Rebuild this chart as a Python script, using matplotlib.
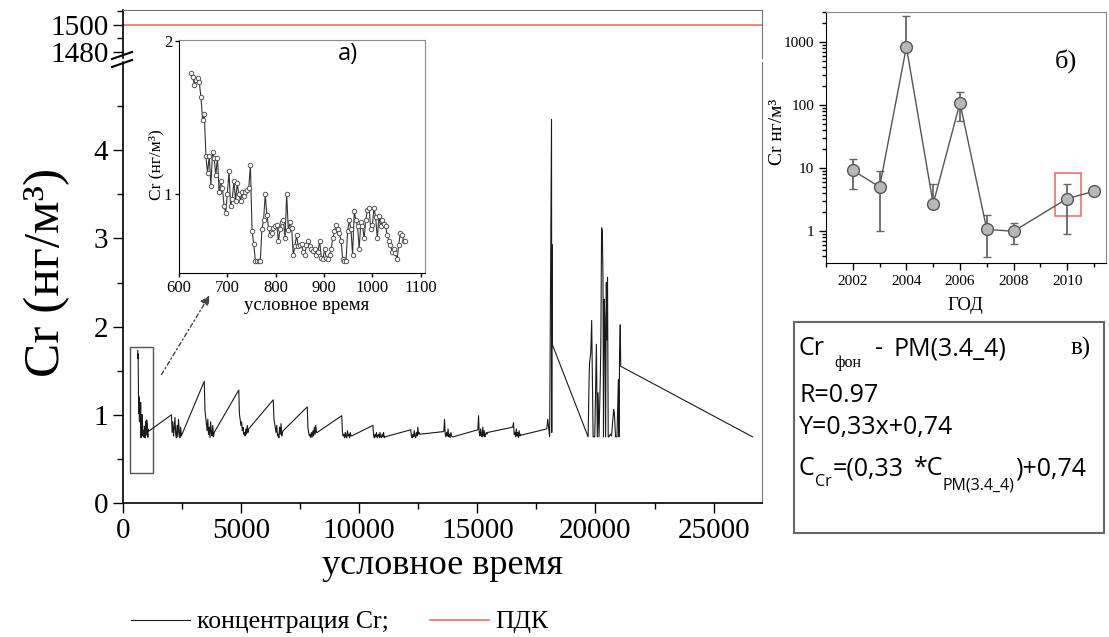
import numpy as np
import matplotlib
matplotlib.use("Agg")
import matplotlib.pyplot as plt
from matplotlib.lines import Line2D
from matplotlib.patches import Rectangle, FancyArrowPatch
from matplotlib.ticker import MultipleLocator, FixedLocator, NullLocator, FixedFormatter, LogLocator, NullFormatter

SERIF = "Liberation Serif"
SANS = "Open Sans"
plt.rcParams["font.family"] = [SERIF, "DejaVu Serif"]

# ---------------- data ----------------
# inset (a): first block of the series
inset_start = 625.0
inset_step = 3.41
inset_values = [1.73, 1.70, 1.64, 1.68, 1.69, 1.66, 1.55, 1.40, 1.44, 1.19,
                1.10, 1.19, 1.04, 1.21, 1.18, 1.09, 1.18, 1.01, 1.06, 1.03,
                0.95, 0.92, 1.00, 1.11, 0.95, 0.98, 1.06, 0.97, 1.05, 1.00,
                0.97, 1.01, 0.99, 1.01, 1.02, 1.03, 1.14, 0.845, 0.80, 0.74,
                0.74, 0.74, 0.74, 0.855, 0.89, 1.00, 0.91, 0.86, 0.83, 0.84,
                0.86, 0.865, 0.87, 0.81, 0.855, 0.88, 0.89, 0.82, 1.00, 0.85,
                0.88, 0.86, 0.76, 0.79, 0.83, 0.79, 0.795, 0.80, 0.77, 0.76,
                0.795, 0.81, 0.79, 0.78, 0.775, 0.78, 0.76, 0.77, 0.81, 0.75,
                0.745, 0.78, 0.75, 0.745, 0.76, 0.78, 0.82, 0.845, 0.87, 0.855,
                0.84, 0.81, 0.745, 0.74, 0.74, 0.845, 0.89, 0.855, 0.76, 0.925,
                0.89, 0.865, 0.78, 0.88, 0.865, 0.82, 0.89, 0.93, 0.94, 0.855,
                0.87, 0.94, 0.90, 0.82, 0.905, 0.865, 0.89, 0.875, 0.865, 0.83,
                0.81, 0.795, 0.77, 0.78, 0.765, 0.745, 0.795, 0.84, 0.83, 0.81,
                0.81]

# following measurement blocks (start time, values at fixed step)
block_step = 30.0
block_starts = [2050, 3440, 4900, 6360, 7800, 9260, 10580, 12180, 13580, 15020, 16500]
block_values = [
    [1.00, 0.80, 0.92, 0.76, 0.85, 0.97, 0.78, 0.74, 0.88, 0.75, 0.95, 0.80, 0.74, 0.86, 0.76],
    [1.38, 1.05, 0.98, 0.90, 0.82, 0.95, 0.78, 0.86, 0.74, 0.92, 0.80, 0.76, 0.88, 0.75, 0.80],
    [1.28, 1.00, 0.95, 0.88, 0.92, 0.82, 0.86, 0.78, 0.80, 0.76, 0.84, 0.78, 0.88, 0.80, 0.84],
    [1.17, 0.95, 0.90, 0.85, 0.80, 0.88, 0.76, 0.78, 0.74, 0.86, 0.78, 0.90, 0.76, 0.80, 0.82],
    [1.09, 0.85, 0.80, 0.76, 0.78, 0.74, 0.80, 0.75, 0.82, 0.76, 0.86, 0.78, 0.88, 0.80, 0.80],
    [0.99, 0.80, 0.76, 0.78, 0.74, 0.80, 0.75, 0.74, 0.82, 0.76, 0.78, 0.74, 0.80, 0.76, 0.76],
    [0.88, 0.76, 0.74, 0.78, 0.75, 0.80, 0.74, 0.76, 0.78, 0.74, 0.80, 0.75, 0.74, 0.78, 0.75, 0.80, 0.74, 0.75],
    [0.83, 0.76, 0.74, 0.78, 0.75, 0.82, 0.76, 0.74, 0.80, 0.76, 0.86, 0.78, 0.80, 0.78],
    [0.81, 0.95, 0.78, 0.75, 0.80, 0.76, 0.84, 0.75, 0.78, 0.74, 0.80, 0.76, 0.75, 0.75],
    [0.83, 0.99, 0.80, 0.76, 0.84, 0.78, 0.75, 0.86, 0.76, 0.82, 0.75, 0.78, 0.80, 0.78, 0.80],
    [0.86, 0.91, 0.78, 0.80, 0.75, 0.84, 0.76, 0.80, 0.74, 0.82, 0.76, 0.78, 0.77],
]
# last part: spike and dense burst
tail_time = [17940, 17980, 18060, 18140, 18150, 18160, 18170,
             19690, 19730, 19750, 19800, 19840, 19850, 19900, 19970, 20040, 20080,
             20110, 20150, 20210, 20230, 20260, 20290, 20320, 20340, 20370, 20400,
             20430, 20460, 20480, 20510, 20540, 20570, 20630, 20680, 20770, 20800,
             20850, 20910, 20970, 21000, 21020, 21050, 21070, 26650]
tail_values = [0.84, 0.95, 0.75, 4.35, 0.80, 2.93, 1.80,
               0.75, 1.41, 1.59, 1.70, 2.07, 1.85, 0.75, 0.75, 1.80, 0.75,
               1.25, 0.75, 1.48, 1.89, 3.12, 3.08, 2.53, 0.75, 2.31, 2.10,
               0.75, 2.50, 1.85, 2.56, 0.75, 0.75, 0.78, 0.76, 1.06, 1.02,
               0.75, 0.75, 1.40, 0.75, 1.70, 2.02, 1.55, 0.75]
pdk_value = 1500.0

# panel (b)
years = [2002, 2003, 2004, 2005, 2006, 2007, 2008, 2010, 2011]
cr_year = [9.2, 5.0, 833, 2.7, 108, 1.06, 0.99, 3.26, 4.26]
cr_low = [4.6, 1.0, 740, 2.3, 55.7, 0.39, 0.61, 0.91, 3.8]
cr_high = [13.9, 9.0, 2600, 5.5, 161, 1.77, 1.36, 5.6, 4.7]
highlight_year = 2010

# ---------------- figure ----------------
W, H = 1109, 637
fig = plt.figure(figsize=(W / 100, H / 100), dpi=100)


def rect(x0, y0, x1, y1):
    return [x0 / W, 1 - y1 / H, (x1 - x0) / W, (y1 - y0) / H]


def fx(px):
    return px / W


def fy(py):
    return 1 - py / H


# assemble the series
inset_time = [inset_start + inset_step * i for i in range(len(inset_values))]
series_t = list(inset_time)
series_v = list(inset_values)
for s, vals in zip(block_starts, block_values):
    series_t += [s + block_step * i for i in range(len(vals))]
    series_v += vals
series_t += tail_time
series_v += tail_values

TICK = dict(direction="out", width=1.0)

# main lower axes
ax = fig.add_axes(rect(123, 62, 762, 503))
line_main, = ax.plot(series_t, series_v, color="#1a1a1a", lw=0.8)
ax.set_xlim(0, 27050)
ax.set_ylim(0, 5.0)
ax.xaxis.set_major_locator(MultipleLocator(5000))
ax.xaxis.set_minor_locator(MultipleLocator(2500))
ax.yaxis.set_major_locator(FixedLocator([0, 1, 2, 3, 4]))
ax.yaxis.set_minor_locator(FixedLocator([0.5, 1.5, 2.5, 3.5, 4.5]))
ax.tick_params(which="major", length=7, labelsize=21, **TICK)
ax.tick_params(which="minor", length=4, **TICK)
ax.spines["top"].set_visible(False)
ax.spines["right"].set_color("#777777")
ax.spines["left"].set_linewidth(1.2)
ax.spines["bottom"].set_linewidth(1.2)
ax.set_xlabel("условное время", fontsize=26, labelpad=4)
ax.add_patch(Rectangle((296, 0.34), 1270 - 296, 1.77 - 0.34, fill=False,
                       edgecolor="#555555", lw=1.0))

# main upper axes (above the break)
axu = fig.add_axes(rect(123, 10, 762, 58))
line_pdk, = axu.plot([0, 27050], [pdk_value, pdk_value], color="#f07070", lw=1.2)
axu.set_xlim(0, 27050)
axu.set_ylim(1475.6, 1511)
axu.yaxis.set_major_locator(FixedLocator([1480, 1500]))
axu.yaxis.set_minor_locator(FixedLocator([1490, 1510]))
axu.tick_params(which="major", length=7, labelsize=21, **TICK)
axu.tick_params(which="minor", length=4, **TICK)
axu.tick_params(axis="x", which="both", bottom=False, labelbottom=False)
axu.spines["bottom"].set_visible(False)
axu.spines["top"].set_color("#777777")
axu.spines["right"].set_color("#777777")
axu.spines["left"].set_linewidth(1.2)

# break marks
for y0 in (59, 67):
    fig.add_artist(Line2D([fx(112), fx(132)], [fy(y0), fy(y0 - 7)], color="black", lw=1.5))

fig.text(fx(47), fy(272), "Cr (нг/м³)", rotation=90, fontsize=37,
         ha="center", va="center")

# legend
fig.legend([line_main, line_pdk], ["концентрация Cr;", "ПДК"], loc="center left",
           bbox_to_anchor=(fx(131), fy(622)), ncol=2, frameon=False, fontsize=18.5,
           handlelength=2.3, handletextpad=0.25, columnspacing=1.6,
           borderpad=0, borderaxespad=0)

# inset (a)
axi = fig.add_axes(rect(179, 40, 425, 273))
axi.plot(inset_time, inset_values, color="#333333", lw=0.8, marker="o", ms=3.2,
         mfc="white", mec="#555555", mew=0.7)
axi.set_yscale("log")
axi.set_ylim(0.70, 2.01)
axi.set_xlim(600, 1109)
axi.yaxis.set_major_locator(FixedLocator([1, 2]))
axi.yaxis.set_major_formatter(FixedFormatter(["1", "2"]))
axi.yaxis.set_minor_locator(NullLocator())
axi.xaxis.set_major_locator(MultipleLocator(100))
axi.tick_params(which="major", length=3, labelsize=12, pad=2, **TICK)
for s in ("top", "right"):
    axi.spines[s].set_color("#888888")
fig.text(fx(307), fy(306), "условное время", fontsize=13.5, ha="center", va="center")
fig.text(fx(156), fy(165), "Cr (нг/м³)", fontsize=12.5, rotation=90, ha="center", va="center")
fig.text(fx(348), fy(54), "а)", fontsize=17, family=SANS, ha="center", va="center")

# arrow from rectangle to inset
fig.add_artist(FancyArrowPatch((fx(160), fy(377)), (fx(211), fy(293)),
                               transform=fig.transFigure, arrowstyle="-|>",
                               mutation_scale=14, linestyle=(0, (3, 2, 1, 2)),
                               color="#444444", lw=1.0))

# panel (b)
axb = fig.add_axes(rect(826, 12, 1106, 263))
cr_arr = np.array(cr_year)
yerr = [cr_arr - np.array(cr_low), np.array(cr_high) - cr_arr]
axb.errorbar(years, cr_year, yerr=yerr, fmt="o-", color="#555555", ecolor="#666666",
             elinewidth=1.3, capsize=3, capthick=1.2, ms=8.5, mfc="#b8b8b8",
             mec="#555555", mew=1.0, lw=1.0)
axb.set_yscale("log")
axb.set_ylim(0.31, 3000)
axb.set_xlim(2001.0, 2011.45)
axb.xaxis.set_major_locator(MultipleLocator(2))
axb.xaxis.set_minor_locator(MultipleLocator(1))
axb.yaxis.set_major_locator(FixedLocator([1, 10, 100, 1000]))
axb.yaxis.set_major_formatter(FixedFormatter(["1", "10", "100", "1000"]))
axb.yaxis.set_minor_locator(LogLocator(base=10, subs=np.arange(2, 10)))
axb.yaxis.set_minor_formatter(NullFormatter())
axb.tick_params(which="major", length=5, labelsize=11, **TICK)
axb.tick_params(which="minor", length=3, **TICK)
for s in ("top", "right"):
    axb.spines[s].set_color("#888888")
axb.add_patch(Rectangle((highlight_year - 0.45, 1.73), 0.97, 8.3 - 1.73, fill=False,
                        edgecolor="#f07070", lw=1.2))
fig.text(fx(777), fy(132), "Cr нг/м³", rotation=90, fontsize=14, ha="center", va="center")
fig.text(fx(965), fy(305), "ГОД", fontsize=13.5, ha="center", va="center")
fig.text(fx(1066), fy(61), "б)", fontsize=19, ha="center", va="center")

# panel (v): text box
fig.add_artist(Rectangle((fx(794), fy(533)), fx(1104) - fx(794), fy(322) - fy(533),
                         transform=fig.transFigure, fill=False, edgecolor="#666666", lw=1.5))

renderer = fig.canvas.get_renderer()


def pieces(x_px, y_px, items):
    x = x_px
    for s, size, dy, fam, gap in items:
        t = fig.text(fx(x), fy(y_px + dy), s, fontsize=size, family=fam,
                     ha="left", va="baseline")
        bb = t.get_window_extent(renderer=renderer)
        x += bb.width + gap


BIG = 18
SUB = 11.5
pieces(799, 355, [("Cr", BIG, 0, SANS, 9), ("фон", SUB, 12, SERIF, 14),
                  ("-", BIG, 0, SANS, 11), ("PM(3.4_4)", BIG, 0, SANS, 0)])
fig.text(fx(1081), fy(355), "в)", fontsize=18, ha="center", va="baseline")
pieces(799, 402, [("R=0.97", BIG, 0, SANS, 0)])
pieces(799, 434, [("Y=0,33x+0,74", BIG, 0, SANS, 0)])
pieces(799, 475, [("C", BIG, 0, SANS, 0), ("Cr", SUB, 11, SANS, 1),
                  ("=(0,33", BIG, 0, SANS, 10), ("*C", BIG, 0, SANS, 0),
                  ("PM(3.4_4)", SUB, 14, SANS, 0), (")+0,74", BIG, 0, SANS, 0)])

fig.savefig("out.png", dpi=100)
